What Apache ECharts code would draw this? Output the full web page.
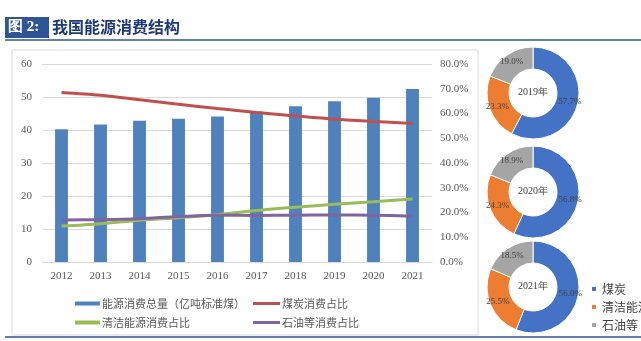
<!DOCTYPE html>
<html><head><meta charset="utf-8">
<script src="https://cdn.jsdelivr.net/npm/echarts@6/dist/echarts.min.js"></script>
<style>html,body{margin:0;padding:0;background:#fff;}#c{width:641px;height:341px;}</style>
</head><body><div id="c"></div>
<script>
const years = ['2012','2013','2014','2015','2016','2017','2018','2019','2020','2021'];
const totalEnergy = [40.2,41.7,42.8,43.4,44.1,45.6,47.2,48.7,49.8,52.4];
const coalShare = [68.5,67.4,65.6,63.7,62.0,60.4,59.0,57.7,56.8,56.0];
const cleanShare = [14.5,15.5,16.9,17.9,19.1,20.8,22.1,23.3,24.3,25.5];
const oilShare = [17.0,17.1,17.5,18.4,18.9,18.8,18.9,19.0,18.9,18.5];
const pieYears = ['2019年','2020年','2021年'];
const pieNames = ['煤炭','清洁能源','石油等'];
const pieValues = [[57.7,23.3,19.0],[56.8,24.3,18.9],[56.0,25.5,18.5]];
const seriesNames = ['能源消费总量（亿吨标准煤）','煤炭消费占比','清洁能源消费占比','石油等消费占比'];

const C = {bar:'#4F81BD', red:'#C0504D', green:'#9BBB59', purple:'#8064A2', pb:'#4472C4', po:'#ED7D31', pg:'#A5A5A5'};
const serif = '"Liberation Serif","DejaVu Serif",serif';
const cjk = '"Noto Sans CJK SC","Noto Sans",sans-serif';

const chart = echarts.init(document.getElementById('c'));
const pieCenters = [[533,93],[533,192],[533,287]];
const pieSeries = pieValues.map((vals,i)=>({
  type:'pie', center:pieCenters[i], radius:[24,46], startAngle:90, clockwise:true,
  avoidLabelOverlap:false, silent:true,
  itemStyle:{borderColor:'#fff', borderWidth:1},
  label:{show:true, position:'inside', formatter:p=>p.value.toFixed(1)+'%', color:'#404040', fontSize:9, fontFamily:serif},
  labelLine:{show:false},
  data: vals.map((v,j)=>({name:pieNames[j], value:v, itemStyle:{color:[C.pb,C.po,C.pg][j]}}))
}));
const centerTexts = pieYears.map((t,i)=>({type:'text', left:pieCenters[i][0]-15, top:pieCenters[i][1]-6,
  style:{text:t, fill:'#404040', font:'10px '+serif}}));

chart.setOption({
  animation:false,
  graphic:[
    {type:'rect', shape:{x:5,y:17,width:44,height:21}, style:{fill:'#2F5597'}},
    {type:'text', left:8, top:20, style:{text:'图 2:', fill:'#fff', font:'bold 15px '+serif}},
    {type:'text', left:52, top:19, style:{text:'我国能源消费结构', fill:'#1F3A73', font:'bold 16px '+cjk}},
    {type:'line', shape:{x1:5,y1:40,x2:641,y2:40}, style:{stroke:'#2F5597', lineWidth:1.5}},
    {type:'rect', shape:{x:12,y:50,width:466,height:285}, style:{fill:'none', stroke:'#D9D9D9', lineWidth:1}},
    {type:'line', shape:{x1:5,y1:337,x2:641,y2:337}, style:{stroke:'#2F5597', lineWidth:1.5}},
    ...centerTexts
  ],
  legend:[
    {orient:'vertical', left:70, top:293, itemGap:8, itemWidth:25, itemHeight:4, icon:'rect',
     textStyle:{color:'#595959', fontSize:11, fontFamily:cjk, padding:[0,0,0,-3]}, data:[seriesNames[0],seriesNames[2]]},
    {orient:'vertical', left:248, top:293, itemGap:8, itemWidth:27, itemHeight:3, icon:'rect',
     textStyle:{color:'#595959', fontSize:11, fontFamily:cjk, padding:[0,0,0,-3]}, data:[seriesNames[1],seriesNames[3]]},
    {orient:'vertical', left:585, top:278, itemGap:6, itemWidth:6, itemHeight:6, icon:'rect',
     textStyle:{color:'#404040', fontSize:12, fontFamily:cjk}, data:pieNames}
  ],
  grid:{left:42, right:209, top:64, bottom:79, containLabel:false},
  xAxis:{type:'category', data:years, axisTick:{show:false},
    axisLine:{lineStyle:{color:'#D9D9D9'}},
    axisLabel:{color:'#595959', fontSize:11, fontFamily:serif, margin:9}},
  yAxis:[
    {type:'value', min:0, max:60, interval:10, splitLine:{lineStyle:{color:'#D9D9D9'}},
     axisLabel:{color:'#595959', fontSize:11, fontFamily:serif, margin:10}},
    {type:'value', min:0, max:80, interval:10, splitLine:{show:false},
     axisLabel:{color:'#595959', fontSize:11, fontFamily:serif, margin:8, formatter:v=>v.toFixed(1)+'%'}}
  ],
  series:[
    {name:seriesNames[0], type:'bar', data:totalEnergy, barWidth:'33%', itemStyle:{color:C.bar}},
    {name:seriesNames[1], type:'line', yAxisIndex:1, data:coalShare, smooth:0.3, showSymbol:false, symbol:'none', lineStyle:{color:C.red, width:3}, itemStyle:{color:C.red}},
    {name:seriesNames[2], type:'line', yAxisIndex:1, data:cleanShare, smooth:0.3, showSymbol:false, symbol:'none', lineStyle:{color:C.green, width:3}, itemStyle:{color:C.green}},
    {name:seriesNames[3], type:'line', yAxisIndex:1, data:oilShare, smooth:0.3, showSymbol:false, symbol:'none', lineStyle:{color:C.purple, width:3}, itemStyle:{color:C.purple}},
    ...pieSeries
  ]
});
</script></body></html>
